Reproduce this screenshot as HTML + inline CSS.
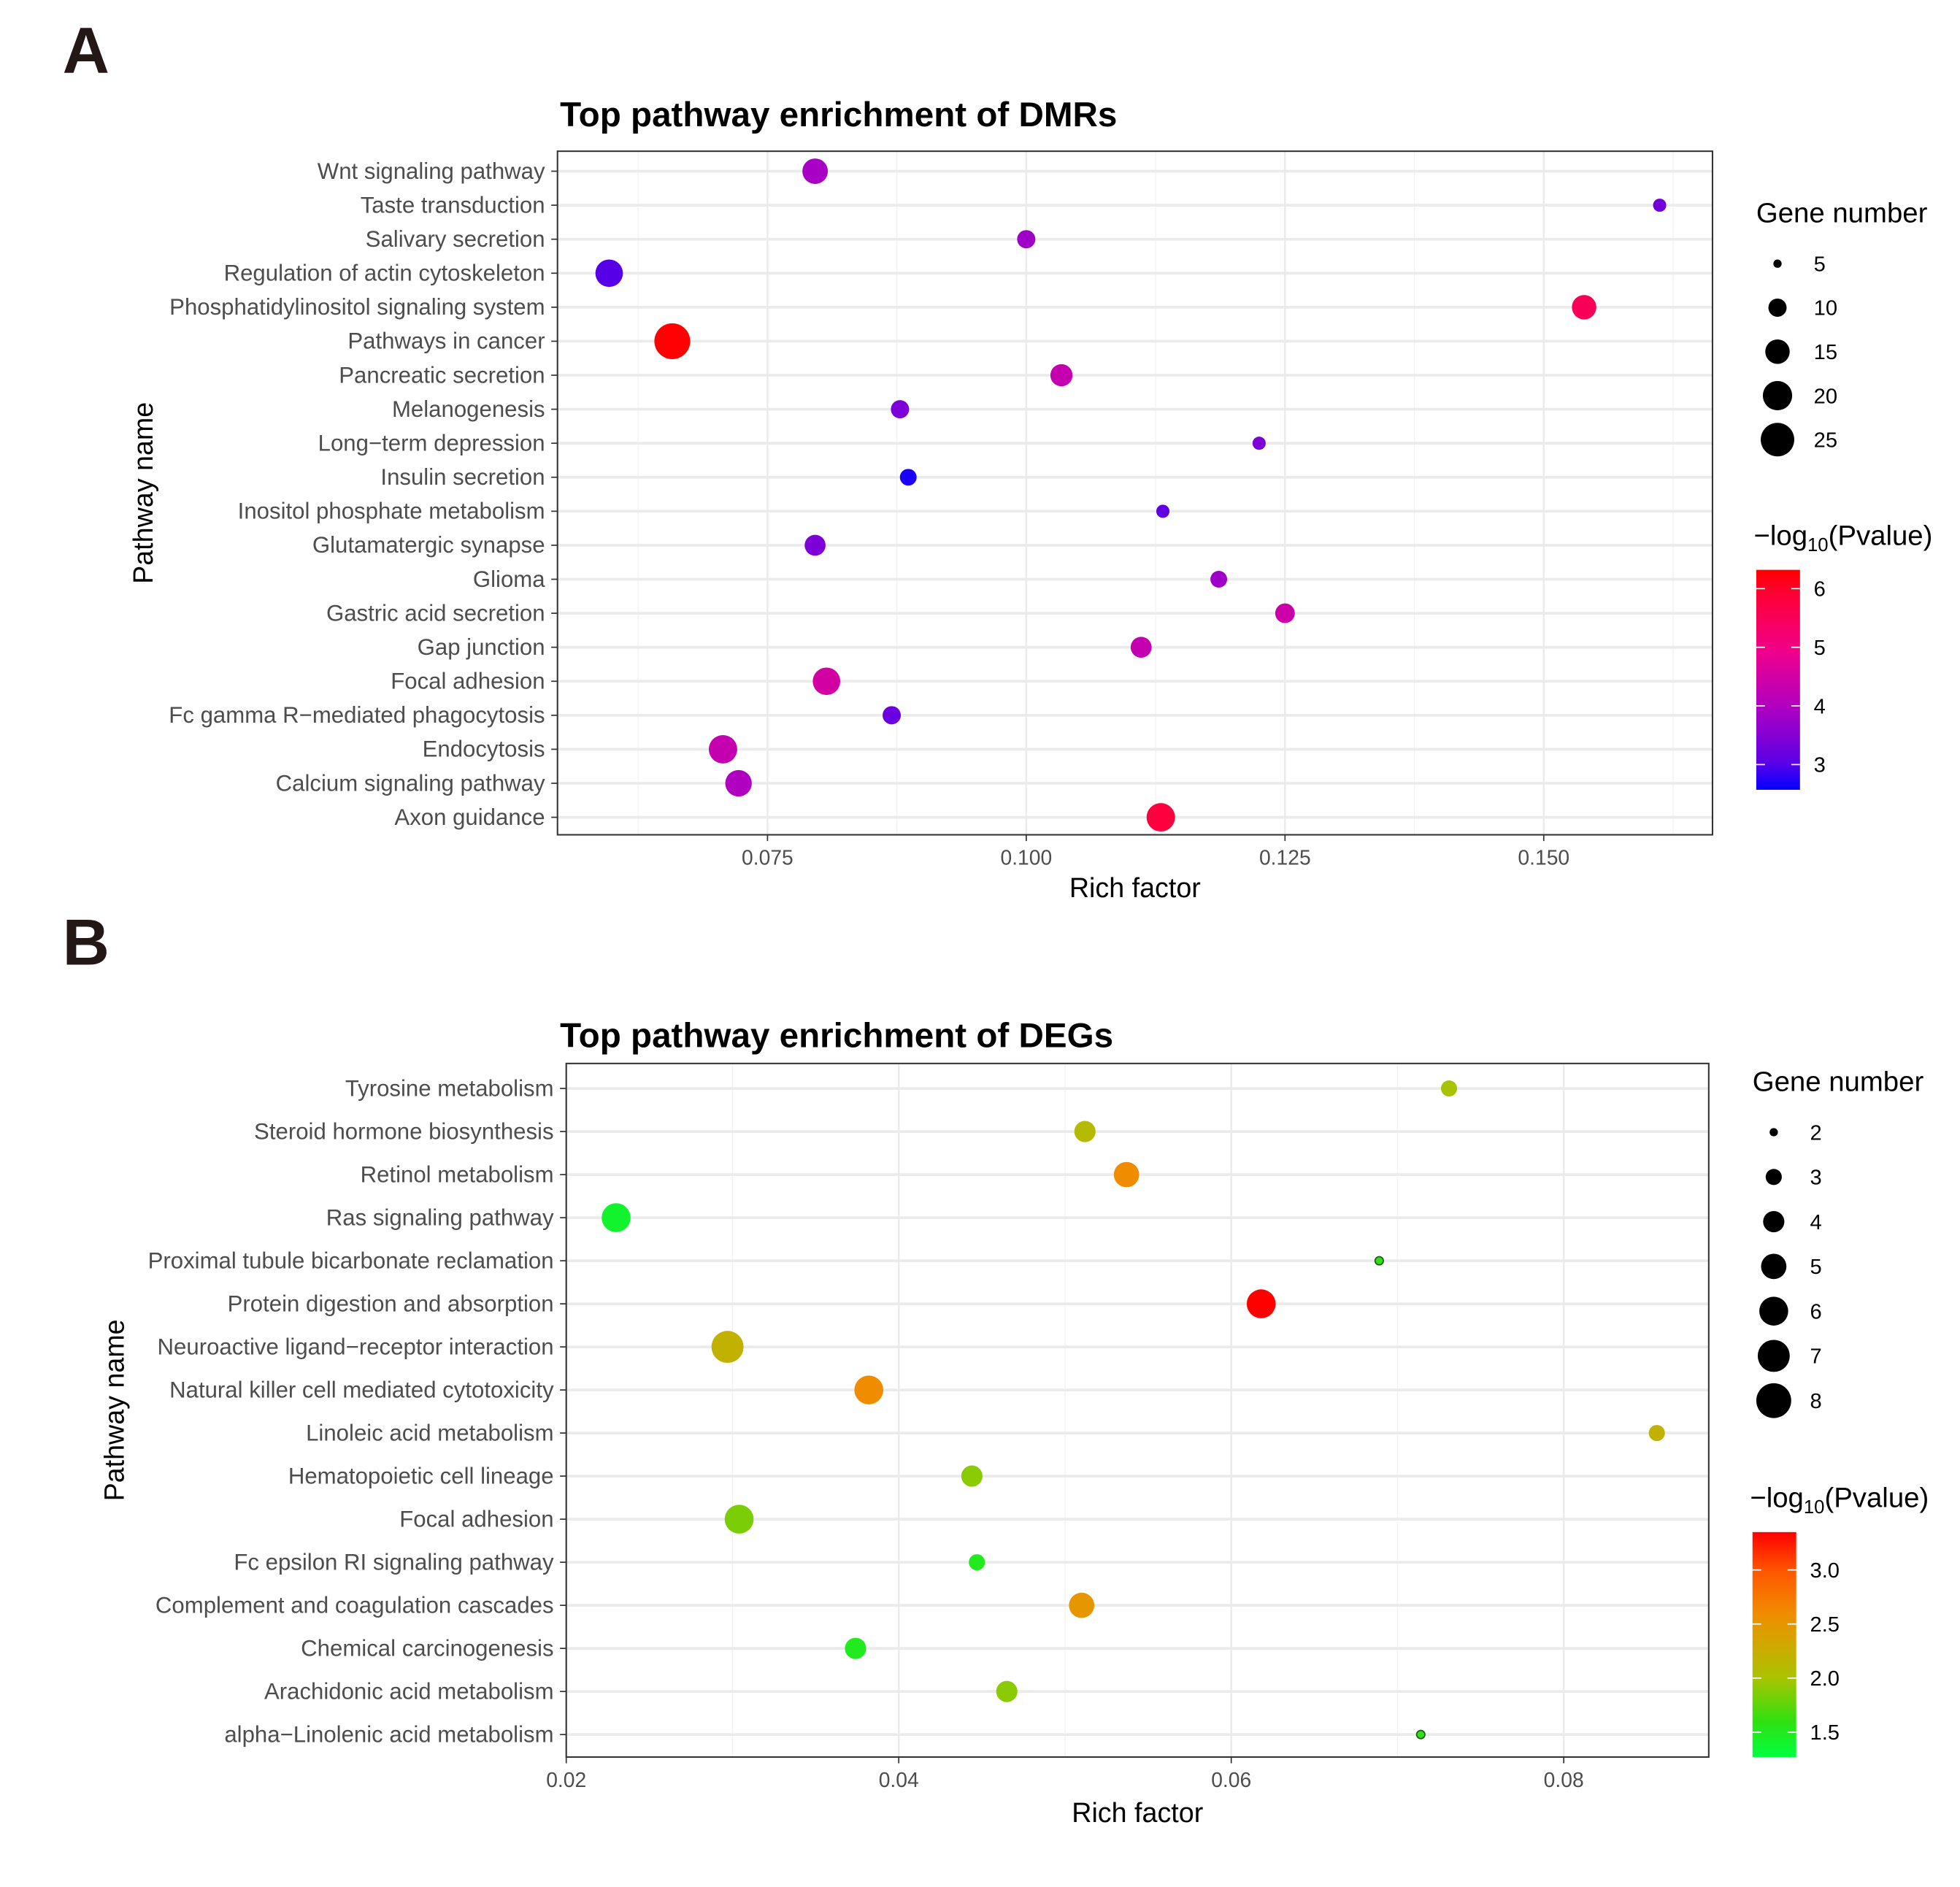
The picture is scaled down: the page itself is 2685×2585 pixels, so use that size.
<!DOCTYPE html>
<html><head><meta charset="utf-8"><style>html,body{margin:0;padding:0;background:#fff}svg{display:block}text{font-family:"Liberation Sans",Arial,sans-serif}</style></head>
<body>
<svg id="fig" width="2685" height="2585" viewBox="0 0 1568 1510" preserveAspectRatio="none" xmlns="http://www.w3.org/2000/svg"></svg>
<script>
// ---- Panel A data ----
const catsA = ["Wnt signaling pathway","Taste transduction","Salivary secretion","Regulation of actin cytoskeleton","Phosphatidylinositol signaling system","Pathways in cancer","Pancreatic secretion","Melanogenesis","Long\u2212term depression","Insulin secretion","Inositol phosphate metabolism","Glutamatergic synapse","Glioma","Gastric acid secretion","Gap junction","Focal adhesion","Fc gamma R\u2212mediated phagocytosis","Endocytosis","Calcium signaling pathway","Axon guidance"];
const richA = [0.0796,0.1612,0.1000,0.0597,0.1539,0.0658,0.1034,0.0878,0.1225,0.0886,0.1132,0.0796,0.1186,0.1250,0.1111,0.0807,0.0870,0.0707,0.0722,0.1130];
const genesA = [16,7,10,18,15,28,13,10,7,9,7,12,9,11,12,18,10,19,17,19];
const pvalA = [3.9,3.3,3.8,3.0,5.5,6.3,4.3,3.4,3.4,2.7,3.1,3.4,3.8,4.4,4.3,4.5,3.2,4.3,4.0,5.8];
const xTicksA = [0.075,0.100,0.125,0.150];
const xTickLabelsA = ["0.075","0.100","0.125","0.150"];
const sizeBreaksA = [5,10,15,20,25];
const colorTicksA = [3,4,5,6];
// ---- Panel B data ----
const catsB = ["Tyrosine metabolism","Steroid hormone biosynthesis","Retinol metabolism","Ras signaling pathway","Proximal tubule bicarbonate reclamation","Protein digestion and absorption","Neuroactive ligand\u2212receptor interaction","Natural killer cell mediated cytotoxicity","Linoleic acid metabolism","Hematopoietic cell lineage","Focal adhesion","Fc epsilon RI signaling pathway","Complement and coagulation cascades","Chemical carcinogenesis","Arachidonic acid metabolism","alpha\u2212Linolenic acid metabolism"];
const richB = [0.0731,0.0512,0.0537,0.0230,0.0689,0.0618,0.0297,0.0382,0.0856,0.0444,0.0304,0.0447,0.0510,0.0374,0.0465,0.0714];
const genesB = [3,4,5,6,2,6,7,6,3,4,6,3,5,4,4,2];
const pvalB = [2.0,2.1,2.6,1.4,1.6,3.35,2.2,2.6,2.2,1.9,1.85,1.5,2.5,1.5,1.9,1.6];
const xTicksB = [0.02,0.04,0.06,0.08];
const xTickLabelsB = ["0.02","0.04","0.06","0.08"];
const sizeBreaksB = [2,3,4,5,6,7,8];
const colorTicksB = [1.5,2.0,2.5,3.0];

const NS="http://www.w3.org/2000/svg";
const svg=document.getElementById('fig');
function mk(tag,attrs,parent,txt){const e=document.createElementNS(NS,tag);for(const k in attrs)e.setAttribute(k,attrs[k]);if(txt!==undefined)e.textContent=txt;(parent||svg).appendChild(e);return e;}
function hex(c){return [parseInt(c.slice(1,3),16),parseInt(c.slice(3,5),16),parseInt(c.slice(5,7),16)];}
function interp(stops,f){f=Math.max(0,Math.min(1,f));for(let i=1;i<stops.length;i++){if(f<=stops[i][0]){const a=stops[i-1],b=stops[i];const t=(f-a[0])/(b[0]-a[0]);const ca=hex(a[1]),cb=hex(b[1]);return 'rgb('+ca.map((v,j)=>Math.round(v+(cb[j]-v)*t)).join(',')+')';}}return stops[stops.length-1][1];}

function panel(cfg){
  const g=mk('g',{});
  
  
  const {x0,x1,y0,y1,dmin,dmax}=cfg;
  const xs=v=>x0+(v-dmin)/(dmax-dmin)*(x1-x0);
  const n=cfg.cats.length;
  const ys=i=>cfg.rowTop+i*(cfg.rowBot-cfg.rowTop)/(n-1);
  const rr=genes=>Math.sqrt(cfg.a0+(genes-cfg.s0)/(cfg.s1-cfg.s0)*(cfg.a1-cfg.a0));
  const col=v=>interp(cfg.stops,(v-cfg.cmin)/(cfg.cmax-cfg.cmin));
  const L=mk('text',{x:50,y:cfg.letterY,'font-size':52,'font-weight':'bold',fill:'#231815'},g,cfg.letter);
  
  const T=mk('text',{x:448,y:cfg.titleY,'font-size':27.8,'font-weight':'bold',fill:'#000'},g,cfg.title);
  
  mk('rect',{x:x0,y:y0,width:x1-x0,height:y1-y0,fill:'#fff'},g);
  const step=cfg.ticks[1]-cfg.ticks[0];
  for(let v=cfg.ticks[0]-step/2;v<dmax;v+=step){ if(v>dmin) mk('line',{x1:xs(v),x2:xs(v),y1:y0,y2:y1,stroke:'#f2f2f2','stroke-width':0.8},g);}
  cfg.ticks.forEach((v,i)=>{
    const gl=mk('line',{x1:xs(v),x2:xs(v),y1:y0,y2:y1,stroke:'#ebebeb','stroke-width':1.5},g);
    
    mk('line',{x1:xs(v),x2:xs(v),y1:y1,y2:y1+5,stroke:'#333','stroke-width':1},g);
    const t=mk('text',{x:xs(v),y:y1+24,'font-size':16.5,fill:'#4d4d4d','text-anchor':'middle'},g,cfg.tickLabels[i]);
    
  });
  cfg.cats.forEach((c,i)=>{
    const gl=mk('line',{x1:x0,x2:x1,y1:ys(i),y2:ys(i),stroke:'#ebebeb','stroke-width':2.2},g);
    
    mk('line',{x1:x0-5,x2:x0,y1:ys(i),y2:ys(i),stroke:'#333','stroke-width':1},g);
    const t=mk('text',{x:x0-10,y:ys(i)+6,'font-size':18.2,fill:'#4d4d4d','text-anchor':'end'},g,c);
    
  });
  const B=mk('rect',{x:x0,y:y0,width:x1-x0,height:y1-y0,fill:'none',stroke:'#333','stroke-width':1.2},g);
  
  cfg.cats.forEach((c,i)=>{
    const p=mk('circle',{cx:xs(cfg.rich[i]),cy:ys(i),r:rr(cfg.genes[i]),fill:col(cfg.pval[i])},g);
    if(cfg.genes[i]<=cfg.s0) {p.setAttribute('stroke','#1a5a1a');p.setAttribute('stroke-width','1');}
    
    
  });
  const XT=mk('text',{x:(x0+x1)/2,y:cfg.xTitleY,'font-size':22,fill:'#000','text-anchor':'middle'},g,'Rich factor');
  
  const YT=mk('text',{x:0,y:0,'font-size':22,fill:'#000','text-anchor':'middle',transform:`translate(${cfg.yTitleX},${(y0+y1)/2}) rotate(-90)`},g,'Pathway name');
  
  const lg=mk('g',{},g);
  
  mk('text',{x:cfg.legX,y:cfg.legY,'font-size':22.4,fill:'#000'},lg,'Gene number');
  cfg.sizeBreaks.forEach((s,i)=>{
    const yy=cfg.legY+33+i*cfg.legStep;
    const c=mk('circle',{cx:cfg.legX+17,cy:yy,r:rr(s),fill:'#000'},lg);
    
    mk('text',{x:cfg.legX+46,y:yy+6,'font-size':17,fill:'#000'},lg,String(s));
  });
  const cg=mk('g',{},g);
  
  const ct=mk('text',{x:cfg.legX-2,y:cfg.cbTitleY,'font-size':22.4,fill:'#000'},cg);
  mk('tspan',{},ct,'\u2212log');mk('tspan',{'font-size':15,dy:5},ct,'10');mk('tspan',{dy:-5},ct,'(Pvalue)');
  const id='grad'+cfg.letter;
  const defs=mk('defs',{},cg);const lgd=mk('linearGradient',{id:id,x1:0,y1:1,x2:0,y2:0},defs);
  cfg.stops.forEach(s=>mk('stop',{offset:s[0],'stop-color':s[1]},lgd));
  const cb=mk('rect',{x:cfg.legX,y:cfg.cbTop,width:35,height:cfg.cbBot-cfg.cbTop,fill:`url(#${id})`},cg);
  
  const cy=v=>cfg.cbBot-(v-cfg.cmin)/(cfg.cmax-cfg.cmin)*(cfg.cbBot-cfg.cbTop);
  cfg.cticks.forEach(v=>{
    mk('line',{x1:cfg.legX,x2:cfg.legX+7,y1:cy(v),y2:cy(v),stroke:'#fff','stroke-width':1},cg);
    mk('line',{x1:cfg.legX+28,x2:cfg.legX+35,y1:cy(v),y2:cy(v),stroke:'#fff','stroke-width':1},cg);
    const t=mk('text',{x:cfg.legX+46,y:cy(v)+6,'font-size':17,fill:'#000'},cg,cfg.cfmt(v));
    
  });
}

panel({name:'panel-a-dmr-chart',letter:'A',letterY:58,title:'Top pathway enrichment of DMRs',titleY:101,
  x0:446,x1:1370,y0:121,y1:668,dmin:0.075-(614-446)/207*0.025,dmax:0.075+(1370-614)/207*0.025,
  rowTop:137,rowBot:654,cats:catsA,rich:richA,genes:genesA,pval:pvalA,ticks:xTicksA,tickLabels:xTickLabelsA,
  s0:5,s1:25,a0:11,a1:180,cmin:2.57,cmax:6.32,
  stops:[[0,'#0000ff'],[0.12,'#5a00e6'],[0.38,'#b000c0'],[0.63,'#f0008a'],[0.9,'#ff0030'],[1,'#ff0000']],
  xTitleY:718,yTitleX:122,legX:1405,legY:178,legStep:35.2,sizeBreaks:sizeBreaksA,
  cbTitleY:436,cbTop:456,cbBot:632,cticks:colorTicksA,cfmt:v=>String(v)});

panel({name:'panel-b-deg-chart',letter:'B',letterY:772,title:'Top pathway enrichment of DEGs',titleY:838,
  x0:453,x1:1367,y0:851,y1:1406,dmin:0.02,dmax:0.02+(1367-453)/13300,
  rowTop:871,rowBot:1388,cats:catsB,rich:richB,genes:genesB,pval:pvalB,ticks:xTicksB,tickLabels:xTickLabelsB,
  s0:2,s1:8,a0:11,a1:195,cmin:1.27,cmax:3.35,
  stops:[[0,'#00ff40'],[0.16,'#30e010'],[0.35,'#a8c400'],[0.5,'#d0a800'],[0.64,'#f08c00'],[0.83,'#ff5500'],[1,'#ff0000']],
  xTitleY:1458,yTitleX:99,legX:1402,legY:873,legStep:35.8,sizeBreaks:sizeBreaksB,
  cbTitleY:1206,cbTop:1226,cbBot:1406,cticks:colorTicksB,cfmt:v=>v.toFixed(1)});
</script>
</body></html>
